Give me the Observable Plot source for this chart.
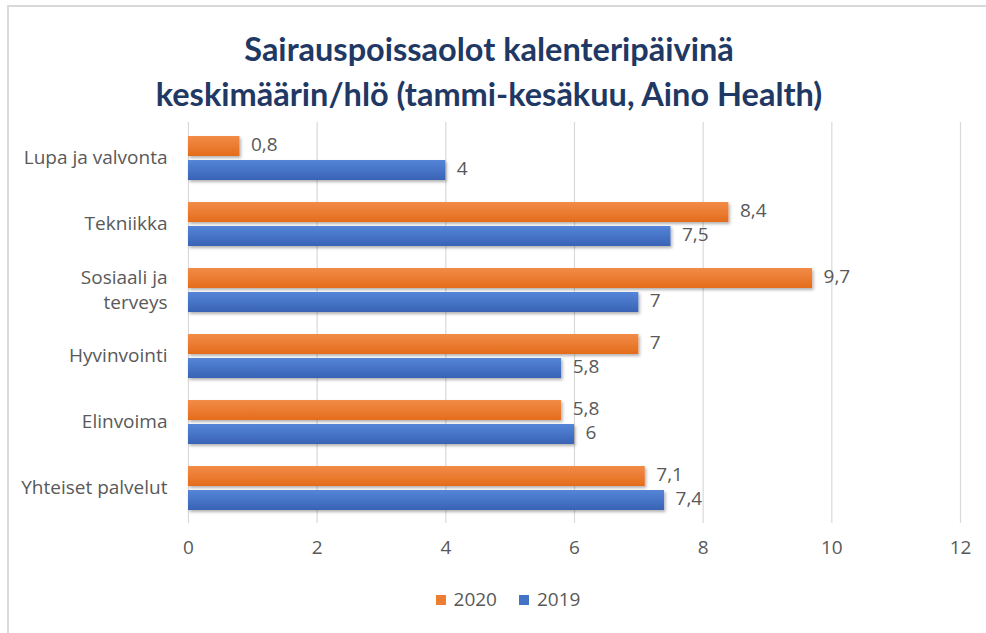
<!DOCTYPE html>
<html>
<head>
<meta charset="utf-8">
<script src="https://cdn.jsdelivr.net/npm/d3@7"></script>
<script src="https://cdn.jsdelivr.net/npm/@observablehq/plot@0.6"></script>
<style>
  body { margin: 0; background: #fff; }
  #wrap { position: relative; width: 986px; height: 633px; overflow: hidden; background: #fff; font-family: "Open Sans", "Noto Sans", sans-serif; }
  #border { position: absolute; left: 7px; top: 5px; right: -10px; bottom: -10px; border-left: 2px solid #d9d9d9; border-top: 2px solid #d9d9d9; }
  #title { position: absolute; left: 0; width: 978px; top: 26px; text-align: center; font-family: "Lato", "Open Sans", sans-serif; font-weight: 700; font-size: 32.5px; line-height: 45px; color: #1f3864; }
  #chart { position: absolute; left: 0; top: 112px; }
  #legend { position: absolute; left: 0; width: 1016px; top: 586px; text-align: center; font-size: 19px; color: #595959; }
  #legend span.item { display: inline-block; margin: 0 11px; }
  #legend i { display: inline-block; width: 10px; height: 10px; margin-right: 8px; vertical-align: 1px; }
</style>
</head>
<body>
<div id="wrap">
  <div id="border"></div>
  <div id="title">Sairauspoissaolot kalenteripäivinä<br>keskimäärin/hlö (tammi-kesäkuu, Aino Health)</div>
  <div id="chart"></div>
  <div id="legend"></div>
</div>
<script>
const categories = ["Lupa ja valvonta", "Tekniikka", "Sosiaali ja terveys", "Hyvinvointi", "Elinvoima", "Yhteiset palvelut"];
const categoryLabels = ["Lupa ja valvonta", "Tekniikka", "Sosiaali ja\nterveys", "Hyvinvointi", "Elinvoima", "Yhteiset palvelut"];
const values2020 = [0.8, 8.4, 9.7, 7, 5.8, 7.1];
const values2019 = [4, 7.5, 7, 5.8, 6, 7.4];
const seriesNames = ["2020", "2019"];
const seriesColors = ["#ed7d31", "#4472c4"];
const xTicks = [0, 2, 4, 6, 8, 10, 12];

const rows2020 = categories.map((c, i) => ({category: c, series: "2020", value: values2020[i]}));
const rows2019 = categories.map((c, i) => ({category: c, series: "2019", value: values2019[i]}));
const fmt = v => String(v).replace(".", ",");
const labelOf = c => categoryLabels[categories.indexOf(c)];
const gray = "#595959";

const chart = Plot.plot({
  width: 986,
  height: 460,
  marginLeft: 188,
  marginRight: 26,
  marginTop: 10,
  marginBottom: 49,
  style: {fontFamily: "'Open Sans', 'Noto Sans', sans-serif", color: gray, background: "transparent"},
  x: {domain: [0, 12]},
  y: {domain: categories, paddingInner: 0.34, paddingOuter: 0.17},
  marks: [
    Plot.gridX(xTicks, {stroke: "#d9d9d9", strokeOpacity: 1, strokeWidth: 1.2}),
    Plot.axisX({ticks: xTicks, tickSize: 0, tickPadding: 17, fontSize: 19, fill: gray, tickFormat: d => String(d), label: null}),
    Plot.axisY({tickSize: 0, tickPadding: 21, fontSize: 19, fill: gray, tickFormat: labelOf, label: null, lineHeight: 1.3, dy: -2}),
    Plot.barX(rows2020, {x: "value", y: "category", fill: "url(#grad2020)", insetBottom: 24, className: "bars"}),
    Plot.barX(rows2019, {x: "value", y: "category", fill: "url(#grad2019)", insetTop: 24, className: "bars"}),
    Plot.text(rows2020, {x: "value", y: "category", text: d => fmt(d.value), dy: -14, dx: 11, textAnchor: "start", fontSize: 19, fill: gray}),
    Plot.text(rows2019, {x: "value", y: "category", text: d => fmt(d.value), dy: 10, dx: 11, textAnchor: "start", fontSize: 19, fill: gray})
  ]
});

// gradient + soft shadow definitions, like the Excel bar style
const svg = d3.select(chart);
const defs = svg.insert("defs", ":first-child");
const grads = [["grad2020", "#f28c48", "#e46c1c"], ["grad2019", "#5585d8", "#3963b5"]];
grads.forEach(([id, top, bottom]) => {
  const g = defs.append("linearGradient").attr("id", id).attr("x1", 0).attr("y1", 0).attr("x2", 0).attr("y2", 1);
  g.append("stop").attr("offset", "0%").attr("stop-color", top);
  g.append("stop").attr("offset", "100%").attr("stop-color", bottom);
});
const f = defs.append("filter").attr("id", "shadow").attr("x", "-5%").attr("y", "-20%").attr("width", "115%").attr("height", "160%");
f.append("feDropShadow").attr("dx", 1.5).attr("dy", 2).attr("stdDeviation", 1.5).attr("flood-color", "#000").attr("flood-opacity", 0.3);
svg.selectAll("g.bars").attr("filter", "url(#shadow)");

document.getElementById("chart").appendChild(chart);

const legend = document.getElementById("legend");
seriesNames.forEach((s, i) => {
  const item = document.createElement("span");
  item.className = "item";
  const sw = document.createElement("i");
  sw.style.background = seriesColors[i];
  item.appendChild(sw);
  item.appendChild(document.createTextNode(s));
  legend.appendChild(item);
});
</script>
</body>
</html>
